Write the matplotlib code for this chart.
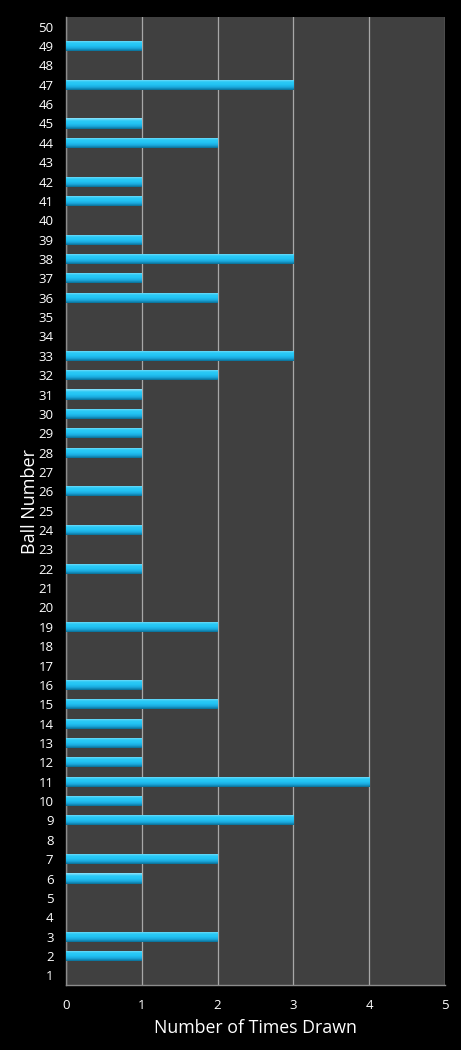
import matplotlib
matplotlib.use("Agg")
import matplotlib.pyplot as plt
import numpy as np
from matplotlib.colors import LinearSegmentedColormap

balls = list(range(1, 51))
counts = [0, 1, 2, 0, 0, 1, 2, 0, 3, 1,
          4, 1, 1, 1, 2, 1, 0, 0, 2, 0,
          0, 1, 0, 1, 0, 1, 0, 1, 1, 1,
          1, 2, 3, 0, 0, 2, 1, 3, 1, 0,
          1, 1, 0, 2, 1, 0, 3, 0, 1, 0]
xticks = [0, 1, 2, 3, 4, 5]

plt.rcParams['font.family'] = ['Open Sans', 'DejaVu Sans']

fig = plt.figure(figsize=(4.61, 10.5), dpi=100, facecolor='black')
ax = fig.add_axes([66/461, 1 - 985/1050, (445-66)/461, (985-17)/1050])
ax.set_facecolor('#404040')

cmap = LinearSegmentedColormap.from_list('bar', ['#0a6f96', '#1aa8dc', '#22c4f4', '#2ccaf6', '#8fe4fb'])
bars = ax.barh(balls, counts, height=0.52, color='#22c0f0', edgecolor='none', zorder=3)
grad = np.linspace(0, 1, 64).reshape(-1, 1)
for b in bars:
    w = b.get_width()
    if w <= 0:
        continue
    y0 = b.get_y()
    h = b.get_height()
    im = ax.imshow(grad, extent=[0, w, y0, y0 + h], origin='lower', aspect='auto',
                   cmap=cmap, zorder=4, interpolation='bilinear')
    im.set_clip_path(b)

ax.set_xlim(0, 5)
ax.set_ylim(0.5, 50.5)
ax.set_xticks(xticks)
ax.set_yticks(balls)
ax.set_yticklabels([str(b) for b in balls])
ax.grid(axis='x', color='#a8a8a8', linewidth=0.9, zorder=1)
ax.set_axisbelow(True)
for s in ['top', 'right']:
    ax.spines[s].set_visible(False)
for s in ['left', 'bottom']:
    ax.spines[s].set_color('#8c8c8c')
    ax.spines[s].set_linewidth(1.0)
ax.tick_params(axis='both', colors='white', labelsize=9.5, length=0)
ax.tick_params(axis='x', pad=10)
ax.tick_params(axis='y', pad=9)
ax.set_xlabel('Number of Times Drawn', color='white', fontsize=12.8, labelpad=5)
ax.set_ylabel('Ball Number', color='white', fontsize=13, labelpad=-0.5)

fig.savefig('out.png', dpi=100, facecolor='black')
